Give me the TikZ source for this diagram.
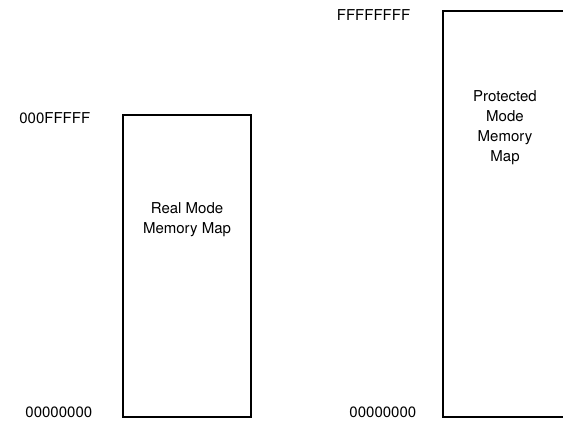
\documentclass[tikz,border=0pt]{standalone}
\usepackage{fontspec}
\setmainfont{TeX Gyre Heros}
\usetikzlibrary{positioning}

\begin{document}
\begin{tikzpicture}[
        x=1pt, y=1pt,             % 1 unit = 1 pixel of the scan
        font=\fontsize{15}{20}\selectfont,
        mapbox/.style={           % Rectangle of a memory map
            draw=black,
            line width=1.2pt,
            inner sep=0pt
        },
        maptext/.style={          % Text inside the rectangles
            align=center,
            inner sep=0pt
        },
        addr/.style={             % Address labels
            anchor=east,
            inner sep=0pt
        }
    ]

    % --- Frame of the page ---
    \useasboundingbox (0,0) rectangle (563,421);

    % --- Memory maps ---

    % 1. Real mode (left)
    \node[mapbox, minimum width=128pt, minimum height=302pt] (realmap) at (187,155) {};

    % 2. Protected mode (right, cut at the page edge)
    \node[mapbox, minimum width=124pt, minimum height=406pt] (protmap) at (505,207) {};

    % --- Texts in the maps ---
    \node[maptext, below=88pt of realmap.north] (realtext) {Real Mode\\Memory Map};
    \node[maptext, below=80pt of protmap.north] (prottext) {Protected\\Mode\\Memory\\Map};

    % --- Addresses ---
    \node[addr, left=32pt of realmap.north west, yshift=-4pt] (realtop) {000FFFFF};
    \node[addr, left=30pt of realmap.south west, yshift=5pt] (realbot) {00000000};
    \node[addr, left=32pt of protmap.north west, yshift=-5pt] (prottop) {FFFFFFFF};
    \node[addr, left=26pt of protmap.south west, yshift=5pt] (protbot) {00000000};

\end{tikzpicture}
\end{document}
